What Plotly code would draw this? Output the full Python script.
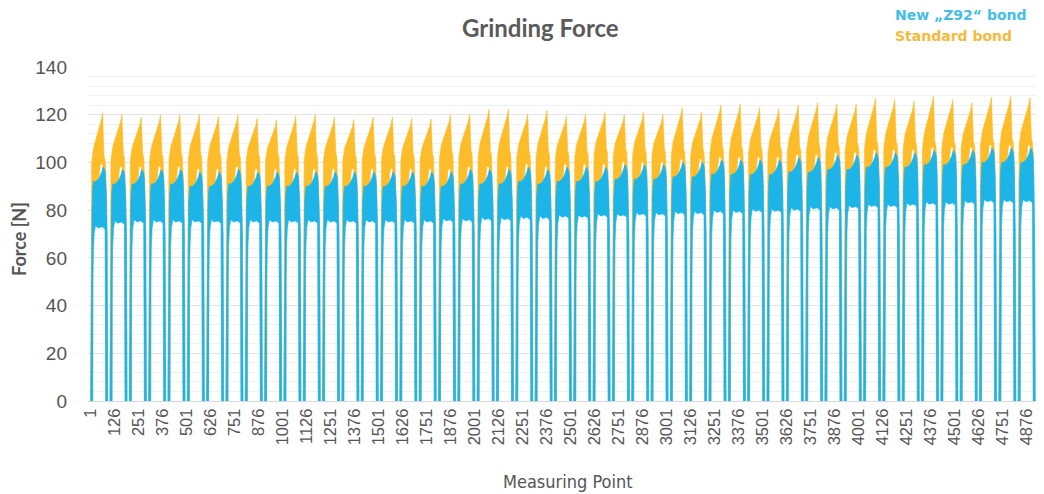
import plotly.graph_objects as go

# ---------------- data ----------------
tick_vals = list(range(1, 4877, 125))            # 1, 126, ..., 4876
tick_text = [str(v) for v in tick_vals]
y_ticks = [0, 20, 40, 60, 80, 100, 120, 140]

cycle_period = 100.6      # measuring points per grinding cycle
first_cycle_start = 2

# Standard bond: peak force of each cycle [N]
orange_peak = [120.8, 120.1, 118.9, 119.9, 119.9, 120.1, 119.4, 119.9, 118.5, 117.8,
               119.5, 120.0, 119.0, 118.0, 119.0, 119.0, 118.5, 118.2, 119.9, 120.3,
               122.2, 122.2, 120.3, 121.7, 119.4, 120.3, 121.0, 120.0, 121.0, 120.0,
               123.0, 121.0, 124.0, 124.5, 123.0, 122.5, 124.0, 125.0, 124.5, 124.5,
               126.9, 126.4, 125.5, 127.7, 126.4, 125.0, 127.3, 127.7, 127.3, 124.0]
# Standard bond: force at start of the cycle plateau [N]
orange_start = [100, 101, 101, 101, 101, 101, 101, 101, 101, 101,
                101, 101, 101, 101, 101, 101, 101, 101, 102, 102,
                102, 102, 102, 102, 102, 102, 103, 103, 103, 103,
                103, 103, 104, 104, 104, 104, 104, 105, 105, 105,
                106, 106, 106, 106, 106, 106, 107, 107, 107, 107]
# New "Z92" bond: upper band of each cycle [N]
blue_top = [98, 97, 97, 97, 97, 96, 96, 97, 96, 96,
            96, 96, 96, 96, 96, 96, 96, 96, 96, 97,
            97, 97, 98, 97, 98, 98, 98, 99, 99, 99,
            100, 100, 101, 101, 101, 101, 102, 102, 103, 103,
            104, 104, 104, 105, 105, 105, 106, 106, 106, 106]
# New "Z92" bond: lower band of each cycle [N]
blue_low = [72, 74, 74.5, 74.5, 74.5, 74.5, 74.5, 74.5, 74.5, 74.5,
            74.5, 74.5, 74.5, 74.5, 74.5, 74.5, 74.5, 74.5, 75, 75,
            75.5, 75.5, 76, 76, 76.5, 76.5, 77, 77, 77.5, 77.5,
            78, 78, 78.5, 78.5, 79, 79, 79.5, 80, 80, 80.5,
            81, 81, 81.5, 82, 82, 82.5, 83, 83, 83, 83]

BLUE = "#1db4e8"
ORANGE = "#fdbd2a"


def blue_cycle(R, bt, bl):
    pts = [(0, 0), (2, 45), (4, 68), (7, bl + 8), (10, bt - 9), (14, bt - 6),
           (25, bt - 6), (40, bt - 5), (50, bt - 3.5), (58, bt - 2), (64, bt),
           (70, bt - 0.5), (76, bt - 2), (79, bt - 5), (82, bt - 12), (86, 70),
           (88, 30), (89, 0),
           (78, 0), (78, bl - 6), (75, bl), (60, bl + 1), (40, bl + 0.5),
           (25, bl + 1.5), (18, bl - 2), (14, bl - 10), (12, 50), (11, 0)]
    return [R + p[0] for p in pts], [p[1] for p in pts]


def orange_cycle(R, op, os_, bt):
    rise = op - os_
    pts = [(-1, 0), (1, 60), (3, 90), (5, os_), (15, os_ + rise * 0.3),
           (30, os_ + rise * 0.5), (45, os_ + rise * 0.72), (55, op - 3),
           (62, op), (65, op - 6), (69, os_ + 3), (75, os_ + 1), (79, bt - 3),
           (82, 80), (87, 30), (88, 0),
           (80, 0), (79, 70), (76, bt - 3), (66, bt - 1), (62, bt + 1),
           (57, bt + 1.5), (50, bt + 1), (46, bt - 3), (40, bt - 5),
           (14, bt - 7), (10, 80), (9, 0)]
    return [R + p[0] for p in pts], [p[1] for p in pts]


bx, by, ox, oy = [], [], [], []
for k in range(len(orange_peak)):
    R = first_cycle_start + k * cycle_period
    x, y = orange_cycle(R, orange_peak[k], orange_start[k], blue_top[k])
    ox += x + [x[0], None]
    oy += y + [y[0], None]
    x, y = blue_cycle(R, blue_top[k], blue_low[k])
    bx += x + [x[0], None]
    by += y + [y[0], None]

fig = go.Figure()
fig.add_trace(go.Scatter(x=ox, y=oy, mode="lines", fill="toself",
                         fillcolor=ORANGE, line=dict(color=ORANGE, width=0.6),
                         hoverinfo="skip", showlegend=False))
fig.add_trace(go.Scatter(x=bx, y=by, mode="lines", fill="toself",
                         fillcolor=BLUE, line=dict(color=BLUE, width=0.6),
                         hoverinfo="skip", showlegend=False))

# page has an 8px body margin: figure is 1036x486 drawn at (8, 8)
fig.update_layout(
    width=1036, height=486,
    margin=dict(l=80, r=2, t=59, b=93),
    paper_bgcolor="white", plot_bgcolor="white",
    showlegend=False,
    xaxis=dict(range=[-12, 4955], tickmode="array", tickvals=tick_vals,
               ticktext=tick_text, tickangle=-90, showgrid=False, zeroline=False,
               showline=True, linecolor="#d9d9d9", linewidth=1, ticks="",
               tickfont=dict(family="Liberation Sans, Arial", size=16.5, color="#555555")),
    yaxis=dict(range=[0, 140], tickmode="array", tickvals=y_ticks, zeroline=False,
               showgrid=True, gridcolor="#e4e4e4", gridwidth=1,
               minor=dict(dtick=4, showgrid=True, gridcolor="#f1f1f1", gridwidth=1),
               ticks="", ticklabelstandoff=20,
               tickfont=dict(family="Liberation Sans, Arial", size=19, color="#555555")),
    annotations=[
        dict(text="<b>Grinding Force</b>", xref="paper", yref="paper",
             x=(540 - 88) / 954, y=1 + (67 - 28) / 334, xanchor="center", yanchor="middle",
             showarrow=False, font=dict(family="Lato", size=24, color="#5a5a5a")),
        dict(text="<b>Force [N]</b>", xref="paper", yref="paper", textangle=-90,
             x=(19 - 88) / 954, y=(401 - 239) / 334, xanchor="center", yanchor="middle",
             showarrow=False, font=dict(family="Lato", size=18, color="#555555")),
        dict(text="Measuring Point", xref="paper", yref="paper",
             x=(568 - 88) / 954, y=-(481 - 401) / 334, xanchor="center", yanchor="middle",
             showarrow=False, font=dict(family="DejaVu Sans Condensed, Liberation Sans", size=18, color="#555555")),
        dict(text="<b>New „Z92“ bond</b>", xref="paper", yref="paper",
             x=(893 - 88) / 954, y=1 + (67 - 15) / 334, xanchor="left", yanchor="middle",
             showarrow=False, font=dict(family="DejaVu Sans", size=14, color="#45bde9")),
        dict(text="<b>Standard bond</b>", xref="paper", yref="paper",
             x=(893 - 88) / 954, y=1 + (67 - 36) / 334, xanchor="left", yanchor="middle",
             showarrow=False, font=dict(family="DejaVu Sans", size=14, color="#f7b93c")),
    ],
)

fig.write_html("out.html")
